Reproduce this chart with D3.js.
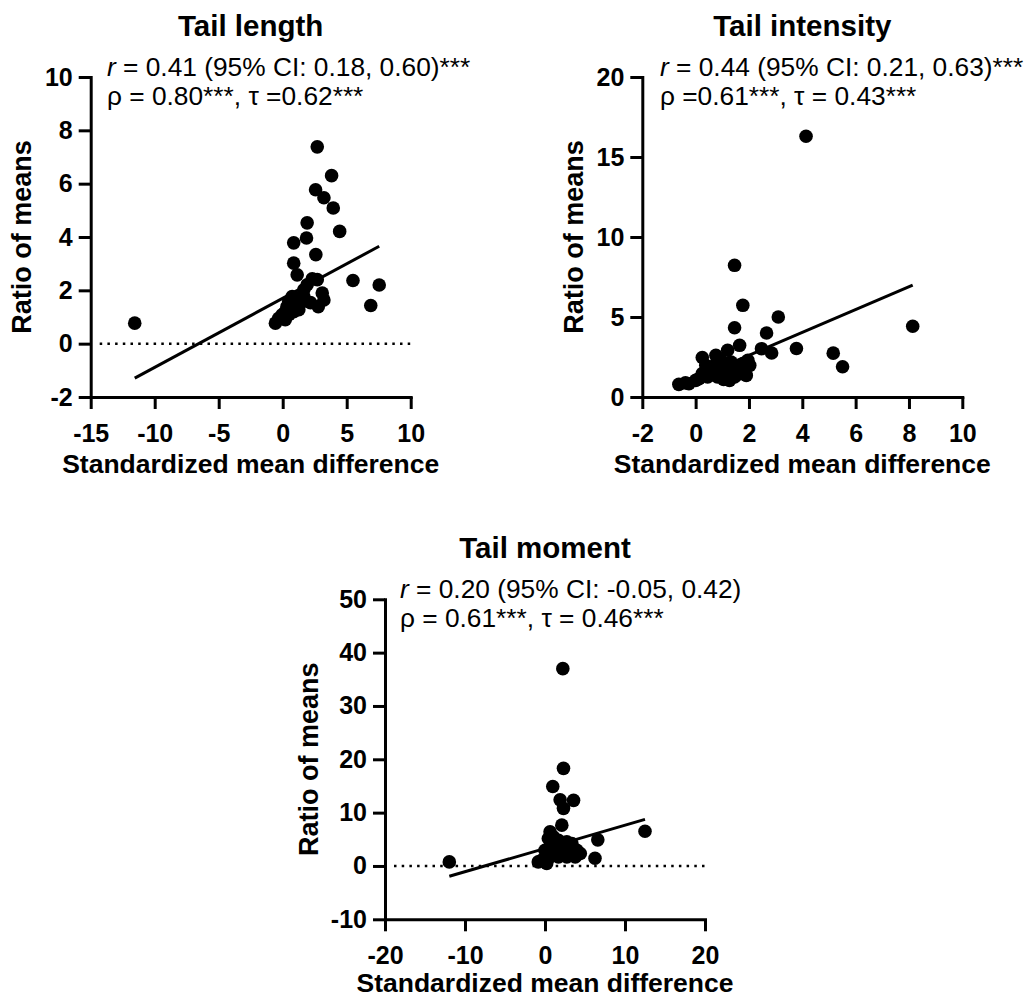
<!DOCTYPE html>
<html>
<head>
<meta charset="utf-8">
<script src="https://cdn.jsdelivr.net/npm/d3@7"></script>
<style>
  html, body { margin: 0; padding: 0; background: #fff; }
  svg { display: block; }
  text { font-family: "Liberation Sans", Arial, Helvetica, sans-serif; fill: #000; }
</style>
</head>
<body>
<svg id="chart" width="1032" height="999"></svg>
<script>
// ---------- data ----------
const titles = ["Tail length", "Tail intensity", "Tail moment"];
const xLabel = "Standardized mean difference";
const yLabel = "Ratio of means";

const lengthX = [-11.56, 2.7, 3.82, 2.57, 3.22, 3.95, 1.91, 4.45, 1.86, 0.86, 2.59, 0.86, 1.13, 2.31, 2.7, 1.91, 5.49, 7.54, 6.88, 3.09, 3.22, 2.78, 2.17, 0.74, 0.47, 0.34, 0.21, -0.05, -0.31, -0.57, 1.39, 1.65, 1.26, 0.86, 1.0, 1.65, 0.5, 1.1, 0.6, 0.2];
const lengthY = [0.77, 7.38, 6.3, 5.77, 5.47, 5.09, 4.53, 4.21, 3.96, 3.78, 3.34, 3.02, 2.58, 2.43, 2.4, 2.21, 2.37, 2.2, 1.43, 1.9, 1.64, 1.39, 1.54, 1.77, 1.58, 1.39, 1.2, 1.08, 0.95, 0.77, 1.52, 2.02, 1.27, 1.2, 1.45, 1.77, 1.1, 1.7, 1.3, 0.9];

const intensityX = [4.14, 1.46, 1.77, 3.10, 1.46, 8.14, 2.66, 1.65, 2.47, 3.78, 2.85, 5.16, 5.51, 1.20, 0.25, 0.76, -0.63, -0.25, 0.0, 0.25, 0.51, 0.63, 0.82, 1.01, 1.2, 1.27, 1.46, 1.65, 1.9, 2.03, 1.96, 1.77, 0.95, 1.33, 0.76, 0.38, 0.13, -0.38, 1.05, 1.55, 0.45];
const intensityY = [16.3, 8.23, 5.73, 5.0, 4.33, 4.42, 4.0, 3.23, 3.02, 3.03, 2.75, 2.74, 1.89, 2.92, 2.47, 2.6, 0.79, 0.83, 1.04, 1.46, 1.77, 1.46, 1.25, 1.77, 1.46, 1.04, 1.25, 1.46, 1.35, 1.98, 2.29, 2.08, 2.29, 2.19, 2.08, 1.98, 1.15, 0.88, 1.1, 1.7, 1.25];

const momentX = [2.23, 2.31, 0.97, 1.89, 3.57, 2.31, 2.1, 12.5, 6.6, 6.25, -11.96, 0.63, 0.42, 1.05, 1.68, 2.73, 3.36, 1.05, 2.31, 3.36, 3.99, 4.41, 3.78, 0.63, -0.42, -0.84, 0.21, 1.68, 2.73, 2.94, 0.0, 1.26, 0.9, 1.5, 2.0, 0.3];
const momentY = [37.0, 18.3, 14.9, 12.4, 12.3, 10.8, 7.65, 6.5, 4.9, 1.45, 0.76, 6.4, 5.15, 5.45, 4.83, 4.51, 4.2, 3.58, 3.27, 2.95, 2.95, 2.33, 1.7, 1.7, 1.07, 0.76, 0.45, 1.7, 1.7, 2.95, 2.95, 2.33, 4.2, 2.8, 2.2, 1.2];

// regression fits: [intercept, slope]
const fitIntercepts = [1.70, 1.18, 3.28];
const fitSlopes = [0.259, 0.714, 0.436];

// axis domains and ticks
const xDomains = [[-15, 10], [-2, 10], [-20, 20]];
const yDomains = [[-2, 10], [0, 20], [-10, 50]];
const xTicks = [[-15, -10, -5, 0, 5, 10], [-2, 0, 2, 4, 6, 8, 10], [-20, -10, 0, 10, 20]];
const yTicks = [[-2, 0, 2, 4, 6, 8, 10], [0, 5, 10, 15, 20], [-10, 0, 10, 20, 30, 40, 50]];
const showZeroLine = [true, false, true];

// statistics annotations
const statR = ["0.41", "0.44", "0.20"];
const statCI = [" (95% CI: 0.18, 0.60)***", " (95% CI: 0.21, 0.63)***", " (95% CI: -0.05, 0.42)"];
const statLine2 = ["ρ = 0.80***, τ =0.62***", "ρ =0.61***, τ = 0.43***", "ρ = 0.61***, τ = 0.46***"];

// ---------- layout ----------
const layout = [
  { left: 90.7, top: 77, w: 320, h: 320, annX: 107, yTitleOff: 69, xTitleOff: 76 },
  { left: 642.3, top: 77, w: 320, h: 320, annX: 660, yTitleOff: 69, xTitleOff: 76 },
  { left: 385, top: 599.3, w: 320, h: 320, annX: 400, yTitleOff: 76, xTitleOff: 73 }
];
const series = [[lengthX, lengthY], [intensityX, intensityY], [momentX, momentY]];

const svg = d3.select("#chart");

layout.forEach((L, i) => {
  const g = svg.append("g");
  const x = d3.scaleLinear().domain(xDomains[i]).range([L.left, L.left + L.w]);
  const y = d3.scaleLinear().domain(yDomains[i]).range([L.top + L.h, L.top]);
  const [xs, ys] = series[i];
  const pts = xs.map((v, k) => [v, ys[k]]);

  // zero dotted line
  if (showZeroLine[i]) {
    g.append("line")
      .attr("x1", x(xDomains[i][0]) + 9).attr("x2", x(xDomains[i][1]))
      .attr("y1", y(0)).attr("y2", y(0))
      .attr("stroke", "#000").attr("stroke-width", 2.5)
      .attr("stroke-dasharray", "2.5,5.2");
  }

  // axes
  const xAxis = d3.axisBottom(x).tickValues(xTicks[i]).tickFormat(d => String(d))
    .tickSize(12).tickPadding(15).tickSizeOuter(0);
  const yAxis = d3.axisLeft(y).tickValues(yTicks[i]).tickFormat(d => String(d))
    .tickSize(12).tickPadding(6).tickSizeOuter(0);

  const gx = g.append("g").attr("transform", `translate(0,${L.top + L.h})`).call(xAxis);
  const gy = g.append("g").attr("transform", `translate(${L.left},0)`).call(yAxis);
  [gx, gy].forEach(a => {
    a.select(".domain").attr("stroke", "#000").attr("stroke-width", 3).attr("stroke-linecap", "square");
    a.selectAll(".tick line").attr("stroke", "#000").attr("stroke-width", 3);
    a.selectAll(".tick text").attr("fill", "#000")
      .style("font-family", '"Liberation Sans", Arial, sans-serif')
      .style("font-size", "25px").style("font-weight", "bold");
  });

  // regression line
  const xmin = d3.min(xs), xmax = d3.max(xs);
  const a = fitIntercepts[i], b = fitSlopes[i];
  g.append("line")
    .attr("x1", x(xmin)).attr("y1", y(a + b * xmin))
    .attr("x2", x(xmax)).attr("y2", y(a + b * xmax))
    .attr("stroke", "#000").attr("stroke-width", 3);

  // points
  g.selectAll("circle.pt").data(pts).enter().append("circle")
    .attr("class", "pt")
    .attr("cx", d => x(d[0])).attr("cy", d => y(d[1]))
    .attr("r", 6.8).attr("fill", "#000");

  // title
  g.append("text")
    .attr("x", L.left + L.w / 2).attr("y", L.top - 41)
    .attr("text-anchor", "middle")
    .style("font-size", "29.5px").style("font-weight", "bold")
    .text(titles[i]);

  // x title
  g.append("text")
    .attr("x", L.left + L.w / 2).attr("y", L.top + L.h + L.xTitleOff)
    .attr("text-anchor", "middle")
    .style("font-size", "26.5px").style("font-weight", "bold")
    .text(xLabel);

  // y title
  g.append("text")
    .attr("transform", `translate(${L.left - L.yTitleOff},${L.top + L.h / 2}) rotate(-90)`)
    .attr("text-anchor", "middle").attr("dy", "0.35em")
    .style("font-size", "27px").style("font-weight", "bold")
    .text(yLabel);

  // annotation
  const t1 = g.append("text").attr("x", L.annX).attr("y", L.top - 1)
    .style("font-size", "26.3px");
  t1.append("tspan").style("font-style", "italic").text("r");
  t1.append("tspan").text(" = " + statR[i] + statCI[i]);
  g.append("text").attr("x", L.annX).attr("y", L.top + 28)
    .style("font-size", "26.3px")
    .text(statLine2[i]);
});
</script>
</body>
</html>
